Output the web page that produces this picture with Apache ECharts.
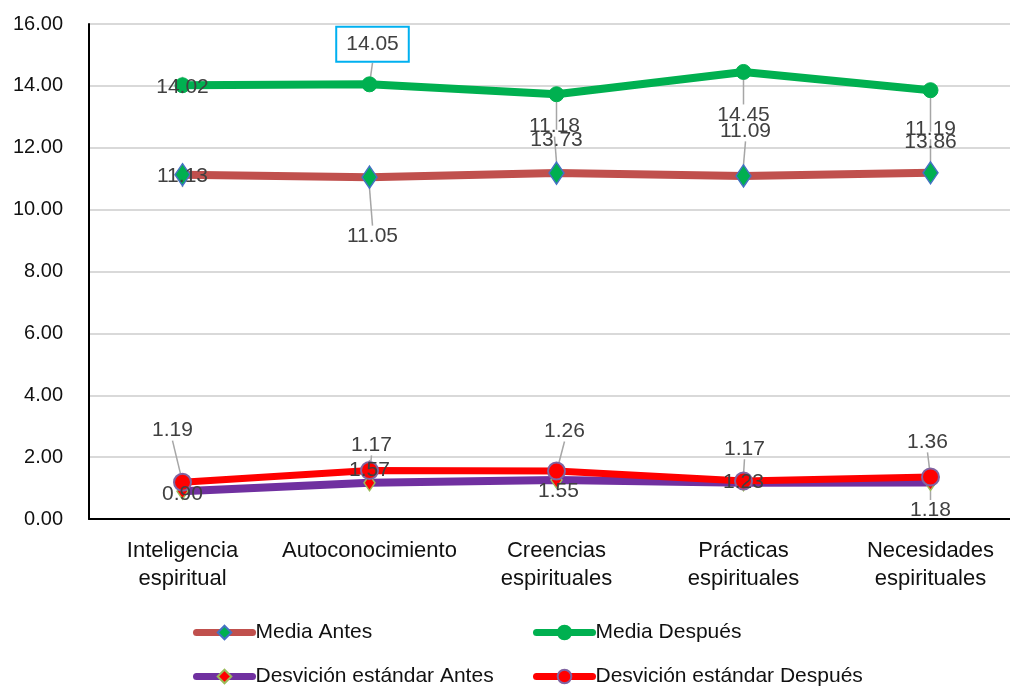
<!DOCTYPE html>
<html>
<head>
<meta charset="utf-8">
<script src="https://cdn.jsdelivr.net/npm/echarts@6/dist/echarts.min.js"></script>
<style>
  html, body { margin: 0; padding: 0; background: #fff; overflow: hidden; }
  /* el area de trazado sigue mas alla del borde derecho, como en el original */
  #chart { width: 1024px; height: 686px; }
</style>
</head>
<body>
<div id="chart"></div>
<script>
// datos
const categorias = [
  "Inteligencia\nespiritual",
  "Autoconocimiento",
  "Creencias\nespirituales",
  "Prácticas\nespirituales",
  "Necesidades\nespirituales"
];
const mediaAntes = [11.13, 11.05, 11.18, 11.09, 11.19];
const mediaDespues = [14.02, 14.05, 13.73, 14.45, 13.86];
const desvAntes = [0.90, 1.17, 1.26, 1.17, 1.18];
const desvDespues = [1.19, 1.57, 1.55, 1.23, 1.36];

// desplazamiento de las etiquetas (como en Excel, con lineas guia)
const desplaz = [
  [[0, 2], [3, 59], [-2, -47], [2, -45], [0, -44]],
  [[0, 2], [3, -40], [0, 46], [0, 43], [0, 52]],
  [[0, 3], [2, -38], [8, -49], [1, -34], [0, 28]],
  [[-10, -52], [0, 0], [2, 20], [0, 1], [-3, -35]]
];

const fuente = "Liberation Sans, Arial, sans-serif";

function serie(nombre, datos, color, ancho, simbolo, tam, relleno, borde, bordeAncho) {
  return {
    name: nombre,
    type: "line",
    data: datos,
    symbol: simbolo,
    symbolSize: tam,
    showAllSymbol: true,
    lineStyle: { color: color, width: ancho, cap: "round", join: "round" },
    itemStyle: { color: relleno, borderColor: borde, borderWidth: bordeAncho },
    label: {
      show: true,
      position: "inside",
      fontFamily: fuente,
      fontSize: 21,
      color: "#404040",
      formatter: p => p.value.toFixed(2)
    },
    labelLine: { show: true, lineStyle: { color: "#A6A6A6", width: 1.5 } },
    emphasis: { disabled: true },
    animation: false
  };
}

const series = [
  serie("Media Antes", mediaAntes, "#C0504D", 8, "diamond", [15, 22], "#00B050", "#4472C4", 1.5),
  serie("Media Después", mediaDespues, "#00B050", 8, "circle", 15, "#00B050", "#00B050", 1),
  serie("Desvición estándar Antes", desvAntes, "#7030A0", 8, "diamond", [11, 16], "#FF0000", "#9BBB59", 1.5),
  serie("Desvición estándar Después", desvDespues, "#FF0000", 7, "circle", 17, "#FF0000", "#8064A2", 2)
];

// etiqueta 14.05 con recuadro
series[1].data = mediaDespues.map((v, i) => i === 1 ? {
  value: v,
  label: { borderColor: "#00B0F0", borderWidth: 2, backgroundColor: "#fff", padding: [7, 9, 5, 9] }
} : v);

function leyenda(nombre, x, y) {
  return {
    data: [nombre],
    left: x,
    top: y,
    itemWidth: 56,
    itemHeight: 17,
    itemGap: 0,
    padding: 0,
    lineStyle: { width: 7, cap: "round" },
    textStyle: { fontFamily: fuente, fontSize: 21, color: "#111", padding: [0, 0, 0, -2] },
    selectedMode: false
  };
}

const myChart = echarts.init(document.getElementById("chart"));
const option = {
  animation: false,
  grid: { left: 89, top: 24, right: 0, height: 495, containLabel: false },
  legend: [
    leyenda("Media Antes", 193, 622),
    leyenda("Media Después", 533, 622),
    leyenda("Desvición estándar Antes", 193, 666),
    leyenda("Desvición estándar Después", 533, 666)
  ],
  xAxis: {
    type: "category",
    data: categorias,
    boundaryGap: true,
    axisLine: { lineStyle: { color: "#000", width: 2 } },
    axisTick: { show: false },
    axisLabel: { interval: 0, margin: 18, fontFamily: fuente, fontSize: 22, color: "#111", lineHeight: 28 }
  },
  yAxis: {
    type: "value",
    min: 0,
    max: 16,
    interval: 2,
    axisLine: { show: true, lineStyle: { color: "#000", width: 2 } },
    axisTick: { show: false },
    axisLabel: { margin: 26, fontFamily: fuente, fontSize: 20, color: "#111", formatter: v => v.toFixed(2) },
    splitLine: { lineStyle: { color: "#D9D9D9", width: 2 } }
  },
  labelLayout: function (p) {
    const d = desplaz[p.seriesIndex][p.dataIndex];
    return { dx: d[0], dy: d[1] };
  },
  series: series
};
myChart.setOption(option);
window.addEventListener("resize", function () {
  myChart.resize();
});
</script>
</body>
</html>
